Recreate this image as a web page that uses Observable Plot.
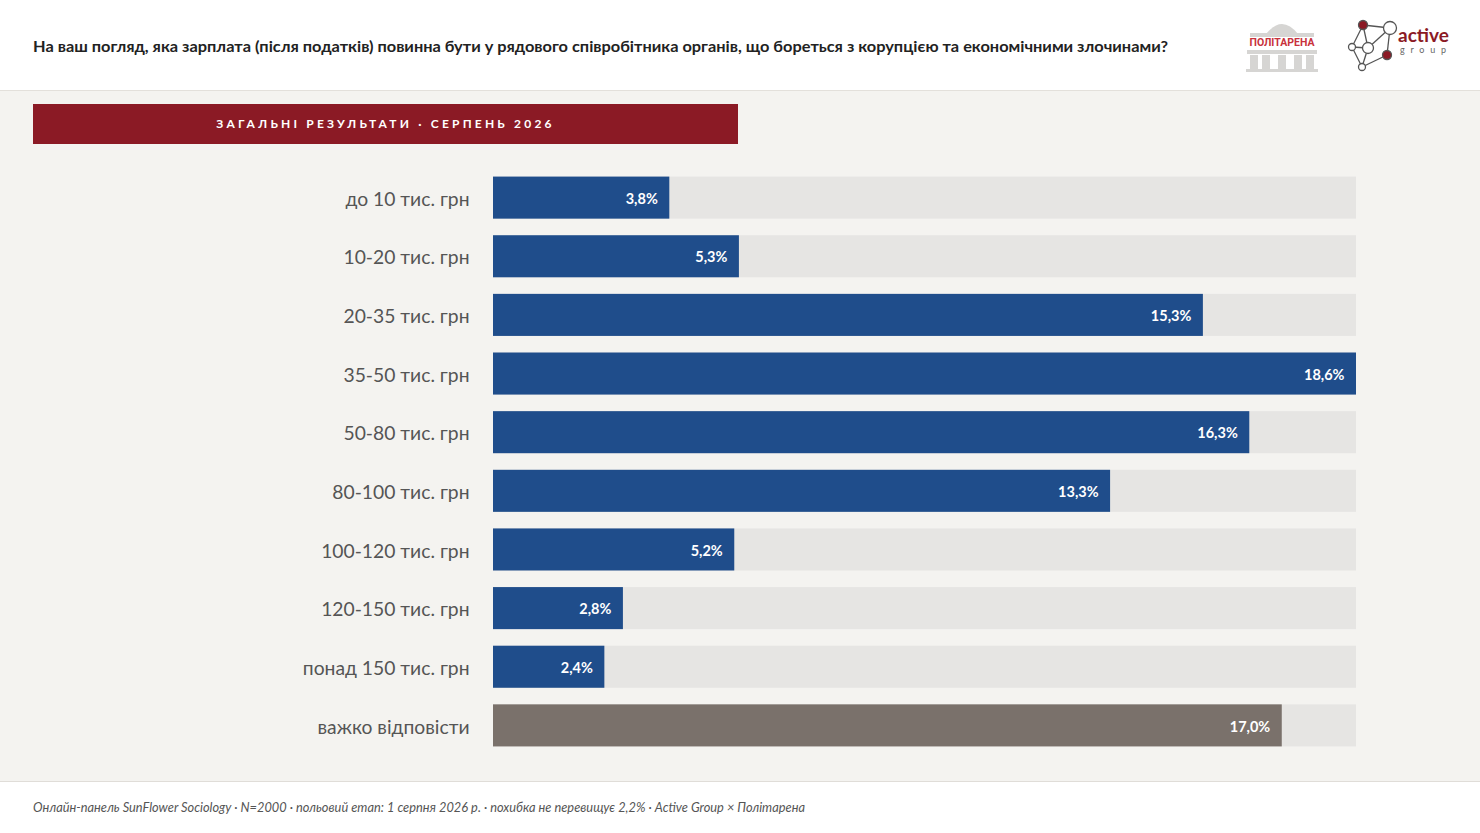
<!DOCTYPE html>
<html>
<head>
<meta charset="utf-8">
<script src="https://cdn.jsdelivr.net/npm/d3@7"></script>
<script src="https://cdn.jsdelivr.net/npm/@observablehq/plot@0.6"></script>
<style>
  html, body { margin:0; padding:0; }
  body { width:1480px; height:833px; position:relative; background:#ffffff; font-family: Lato, "Noto Sans", sans-serif; overflow:hidden; }
  #header { position:absolute; left:0; top:0; width:1480px; height:90px; background:#ffffff; border-bottom:1.5px solid #e3e0db; }
  #title { position:absolute; left:33px; top:36px; font-size:16px; font-weight:700; color:#222; white-space:nowrap; transform-origin:left center; }
  #main { position:absolute; left:0; top:91px; width:1480px; height:690px; background:#f4f3f0; border-bottom:1.5px solid #e0ddd8; }
  #banner { position:absolute; left:33px; top:104px; width:705px; height:40px; background:#8b1a25; color:#fff; font-size:12px; font-weight:700; letter-spacing:3.2px; text-align:center; line-height:40px; }
  #chart { position:absolute; left:0; top:160px; }
  #footer { position:absolute; left:33px; top:799px; font-size:12.8px; font-style:italic; color:#555; white-space:nowrap; transform-origin:left center; }
  #logos { position:absolute; left:0; top:0; }
</style>
</head>
<body>
<div id="header"><div id="title">На ваш погляд, яка зарплата (після податків) повинна бути у рядового співробітника органів, що бореться з корупцією та економічними злочинами?</div></div>
<svg id="logos" width="1480" height="90">
  <!-- Політарена logo -->
  <g fill="#d6d5d3">
    <path d="M1266,34 Q1282,14 1298,34 Z"/>
    <rect x="1250" y="33" width="64" height="4"/>
    <rect x="1247" y="50" width="70" height="4"/>
    <rect x="1250" y="55" width="8" height="15"/>
    <rect x="1262" y="55" width="8" height="15"/>
    <rect x="1278" y="55" width="8" height="15"/>
    <rect x="1294" y="55" width="8" height="15"/>
    <rect x="1306" y="55" width="8" height="15"/>
    <rect x="1246" y="69" width="72" height="3"/>
  </g>
  <text x="1282" y="46" text-anchor="middle" font-family="Roboto, sans-serif" font-weight="700" font-size="10.5" fill="#c8323c">ПОЛІТАРЕНА</text>
  <!-- active group logo -->
  <g stroke="#555" stroke-width="1.3" fill="none">
    <line x1="1363" y1="25" x2="1390" y2="28"/>
    <line x1="1363" y1="25" x2="1352" y2="47"/>
    <line x1="1363" y1="25" x2="1368" y2="48"/>
    <line x1="1390" y1="28" x2="1368" y2="48"/>
    <line x1="1390" y1="28" x2="1387" y2="55"/>
    <line x1="1352" y1="47" x2="1368" y2="48"/>
    <line x1="1352" y1="47" x2="1362" y2="67"/>
    <line x1="1362" y1="67" x2="1387" y2="55"/>
    <line x1="1368" y1="48" x2="1362" y2="67"/>
  </g>
  <g stroke="#555" stroke-width="1.3">
    <circle cx="1363" cy="25" r="4.5" fill="#8b1a25"/>
    <circle cx="1390" cy="28" r="6.5" fill="#fff"/>
    <circle cx="1368" cy="48" r="5.5" fill="#fff"/>
    <circle cx="1352" cy="47" r="3.5" fill="#fff"/>
    <circle cx="1387" cy="55" r="4.5" fill="#8b1a25"/>
    <circle cx="1362" cy="67" r="3.5" fill="#fff"/>
  </g>
  <text x="1398" y="42" font-family="Lato, sans-serif" font-weight="700" font-size="19" fill="#8b1a25">active</text>
  <text x="1400" y="53" font-family="Lato, sans-serif" font-size="9" letter-spacing="5.8" fill="#666">group</text>
</svg>
<div id="main"></div>
<div id="banner">ЗАГАЛЬНІ РЕЗУЛЬТАТИ · СЕРПЕНЬ 2026</div>
<div id="chart"></div>
<div id="footer">Онлайн-панель SunFlower Sociology · N=2000 · польовий етап: 1 серпня 2026 р. · похибка не перевищує 2,2% · Active Group × Політарена</div>
<script>
const categories = ["до 10 тис. грн","10-20 тис. грн","20-35 тис. грн","35-50 тис. грн","50-80 тис. грн","80-100 тис. грн","100-120 тис. грн","120-150 тис. грн","понад 150 тис. грн","важко відповісти"];
const values = [3.8, 5.3, 15.3, 18.6, 16.3, 13.3, 5.2, 2.8, 2.4, 17.0];
const kinds = ["answer","answer","answer","answer","answer","answer","answer","answer","answer","hard"];

const data = categories.map((c, i) => ({cat: c, value: values[i], kind: kinds[i]}));
const maxV = d3.max(values);

const chart = Plot.plot({
  width: 1480,
  height: 603,
  marginLeft: 493,
  marginRight: 124,
  marginTop: 0,
  marginBottom: 0,
  style: {fontFamily: "Lato, 'Noto Sans', sans-serif", background: "transparent", overflow: "visible"},
  x: {domain: [0, maxV], axis: null},
  y: {domain: categories, padding: 0.283, round: false, axis: null},
  color: {domain: ["answer","hard"], range: ["#1f4d8b", "#7a716b"]},
  marks: [
    Plot.barX(data, {x: () => maxV, y: "cat", fill: "#e6e5e3"}),
    Plot.barX(data, {x: "value", y: "cat", fill: "kind"}),
    Plot.axisY({tickSize: 0, tickPadding: 24, fontSize: 19.3, fill: "#555", label: null, dy: 1.5}),
    Plot.text(data, {x: "value", y: "cat", text: d => d.value.toFixed(1).replace(".", ",") + "%", textAnchor: "end", dx: -12, dy: 1, fill: "white", fontWeight: "bold", fontSize: 14.5})
  ]
});
document.getElementById("chart").appendChild(chart);

// fit title and footer width to reference spans
function fit(id, target) {
  const el = document.getElementById(id);
  const w = el.getBoundingClientRect().width;
  el.style.transform = `scaleX(${target / w})`;
}
fit("title", 1135);
fit("footer", 772);
</script>
</body>
</html>
